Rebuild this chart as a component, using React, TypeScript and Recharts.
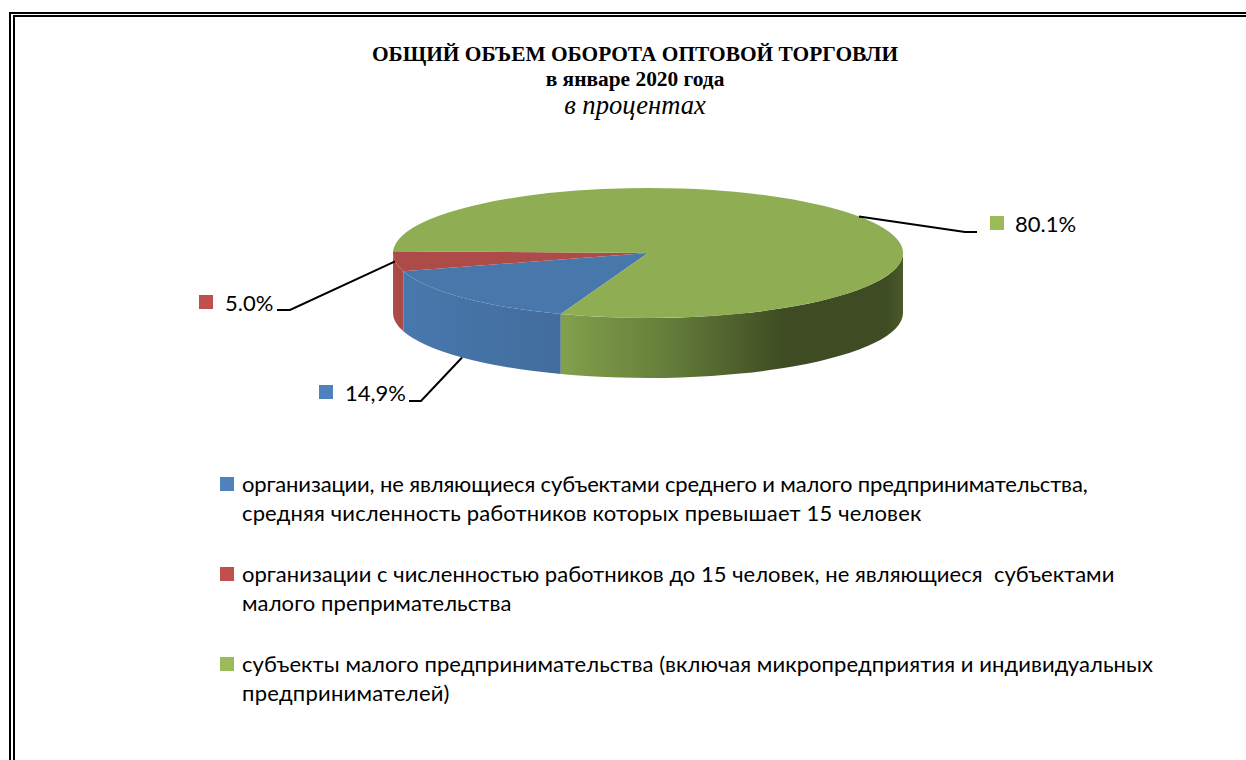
import { PieChart, Pie, Legend } from "recharts";

const titleLines = ["ОБЩИЙ ОБЪЕМ ОБОРОТА ОПТОВОЙ ТОРГОВЛИ", "в январе 2020 года", "в процентах"];
const names = [
  "организации, не являющиеся субъектами среднего и малого предпринимательства,\nсредняя численность работников которых превышает 15 человек",
  "организации с численностью работников до 15 человек, не являющиеся  субъектами\nмалого препримательства",
  "субъекты малого предпринимательства (включая микропредприятия и индивидуальных\nпредпринимателей)",
];
const values = [14.9, 5.0, 80.1];
const valueLabels = ["14,9%", "5.0%", "80.1%"];
const keyColors = ["#4f81bd", "#c0504d", "#9bbb59"];
const topColors = ["#4877ab", "#ad4b48", "#8fad53"];

const data = names.map((name, i) => ({ name, value: values[i], fill: keyColors[i] }));

const TILT = 65 / 255;
const DEPTH = 60;
const SANS = "Lato, 'Open Sans', sans-serif";
const SERIF = "'Liberation Serif', serif";

// Lato runs a little different from the original font, line by line
const lineTracking = [[-0.14, 0.15], [0.025, 0.09], [0.08, 0.24]];

const RAD = Math.PI / 180;

// the pie is squashed into an ellipse, so points are worked out by hand from the sector's angles
function pt(cx: number, cy: number, r: number, deg: number) {
  return [cx + r * Math.cos(deg * RAD), cy - r * TILT * Math.sin(deg * RAD)];
}

function wallPieces(start: number, end: number) {
  const pieces: number[][] = [];
  [[-180, 0], [180, 360]].forEach(([lo, hi]) => {
    const a = Math.max(end, lo);
    const b = Math.min(start, hi);
    if (b > a) pieces.push([a, b]);
  });
  return pieces;
}

function PieSlice(props: any) {
  const { cx, cy, outerRadius: r, startAngle, endAngle, index } = props;
  const ry = r * TILT;
  const [x1, y1] = pt(cx, cy, r, startAngle);
  const [x2, y2] = pt(cx, cy, r, endAngle);
  const large = Math.abs(startAngle - endAngle) > 180 ? 1 : 0;
  return (
    <g>
      {wallPieces(startAngle, endAngle).map(([a, b], k) => {
        const [ax, ay] = pt(cx, cy, r, a);
        const [bx, by] = pt(cx, cy, r, b);
        return (
          <path
            key={k}
            d={`M${bx},${by} A${r},${ry} 0 0 1 ${ax},${ay} L${ax},${ay + DEPTH} A${r},${ry} 0 0 0 ${bx},${by + DEPTH} Z`}
            fill={`url(#wall${index})`}
          />
        );
      })}
      <path
        d={`M${cx},${cy} L${x1},${y1} A${r},${ry} 0 ${large} 1 ${x2},${y2} Z`}
        fill={topColors[index]}
      />
    </g>
  );
}

// leader line elbow and label placement
const elbows = [
  { x: 421, y: 401, end: 409, keyX: 319, keyY: 385, textX: 345 },
  { x: 290, y: 310, end: 277, keyX: 199, keyY: 295, textX: 225 },
  { x: 965, y: 232, end: 977, keyX: 990, keyY: 216, textX: 1015 },
];

function SliceLabel(props: any) {
  const { cx, cy, outerRadius: r, midAngle, index } = props;
  const [mx, my0] = pt(cx, cy, r, midAngle);
  // the blue leader starts at the bottom edge of the side wall
  const my = index === 0 ? my0 + DEPTH : my0;
  const e = elbows[index];
  return (
    <g>
      <polyline points={`${mx},${my} ${e.x},${e.y} ${e.end},${e.y}`} fill="none" stroke="#000" strokeWidth={2} />
      <rect x={e.keyX} y={e.keyY} width={14} height={14} fill={keyColors[index]} />
      <text x={e.textX} y={e.keyY + 16} fontFamily={SANS} fontSize={22} fill="#000">
        {valueLabels[index]}
      </text>
    </g>
  );
}

function LegendBlock({ payload }: any) {
  return (
    <div style={{ position: "relative", height: 260 }}>
      {(payload || []).map((item: any, i: number) => (
        <div key={i} style={{ position: "absolute", left: 220, top: i * 90, whiteSpace: "pre", fontFamily: SANS, fontSize: 22, lineHeight: "29px", color: "#000", textAlign: "left" }}>
          <span style={{ position: "absolute", left: 0, top: 8, width: 14, height: 14, background: item.color }} />
          {String(item.value).split("\n").map((line, k) => (
            <div key={k} style={{ marginLeft: 22, letterSpacing: lineTracking[i][k] }}>{line}</div>
          ))}
        </div>
      ))}
    </div>
  );
}

export default function App() {
  return (
    <div style={{ position: "absolute", left: 0, top: 0, width: 1246, height: 760, background: "#fff", overflow: "hidden" }}>
      <div style={{ position: "absolute", left: 9, top: 12, right: 0, height: 2, background: "#000" }} />
      <div style={{ position: "absolute", left: 13, top: 15, right: 0, height: 2, background: "#000" }} />
      <div style={{ position: "absolute", left: 9, top: 12, bottom: 0, width: 2, background: "#000" }} />
      <div style={{ position: "absolute", left: 13, top: 15, bottom: 0, width: 2, background: "#000" }} />
      <PieChart width={1246} height={760} margin={{ top: 0, right: 0, bottom: 0, left: 0 }} style={{ position: "absolute" }}>
        <defs>
          <linearGradient id="wall0" gradientUnits="userSpaceOnUse" x1={404} y1={0} x2={561} y2={0}>
            <stop offset="0%" stopColor="#4878ad" />
            <stop offset="100%" stopColor="#426c9d" />
          </linearGradient>
          <linearGradient id="wall1" gradientUnits="userSpaceOnUse" x1={393} y1={0} x2={404} y2={0}>
            <stop offset="0%" stopColor="#ad4b48" />
            <stop offset="100%" stopColor="#a84a47" />
          </linearGradient>
          <linearGradient id="wall2" gradientUnits="userSpaceOnUse" x1={561} y1={0} x2={903} y2={0}>
            <stop offset="0%" stopColor="#82a04c" />
            <stop offset="30%" stopColor="#667f3b" />
            <stop offset="65%" stopColor="#3f4c23" />
            <stop offset="95%" stopColor="#3f4c23" />
            <stop offset="100%" stopColor="#4a5a2b" />
          </linearGradient>
        </defs>
        <text x={635} y={61} textAnchor="middle" fontFamily={SERIF} fontWeight="bold" fontSize={21.4} fill="#000">{titleLines[0]}</text>
        <text x={635} y={85.5} textAnchor="middle" fontFamily={SERIF} fontWeight="bold" fontSize={21.4} fill="#000">{titleLines[1]}</text>
        <text x={635} y={114} textAnchor="middle" fontFamily={SERIF} fontStyle="italic" fontSize={26.6} fill="#000">{titleLines[2]}</text>
        <Pie
          data={data}
          dataKey="value"
          nameKey="name"
          cx={648}
          cy={253}
          outerRadius={255}
          startAngle={250}
          endAngle={-110}
          stroke="none"
          shape={PieSlice}
          label={SliceLabel}
          labelLine={false}
          isAnimationActive={false}
        />
        <Legend
          verticalAlign="bottom"
          itemSorter={null}
          content={LegendBlock}
          wrapperStyle={{ position: "absolute", left: 0, top: 469, bottom: "auto", width: 1246 }}
        />
      </PieChart>
    </div>
  );
}
